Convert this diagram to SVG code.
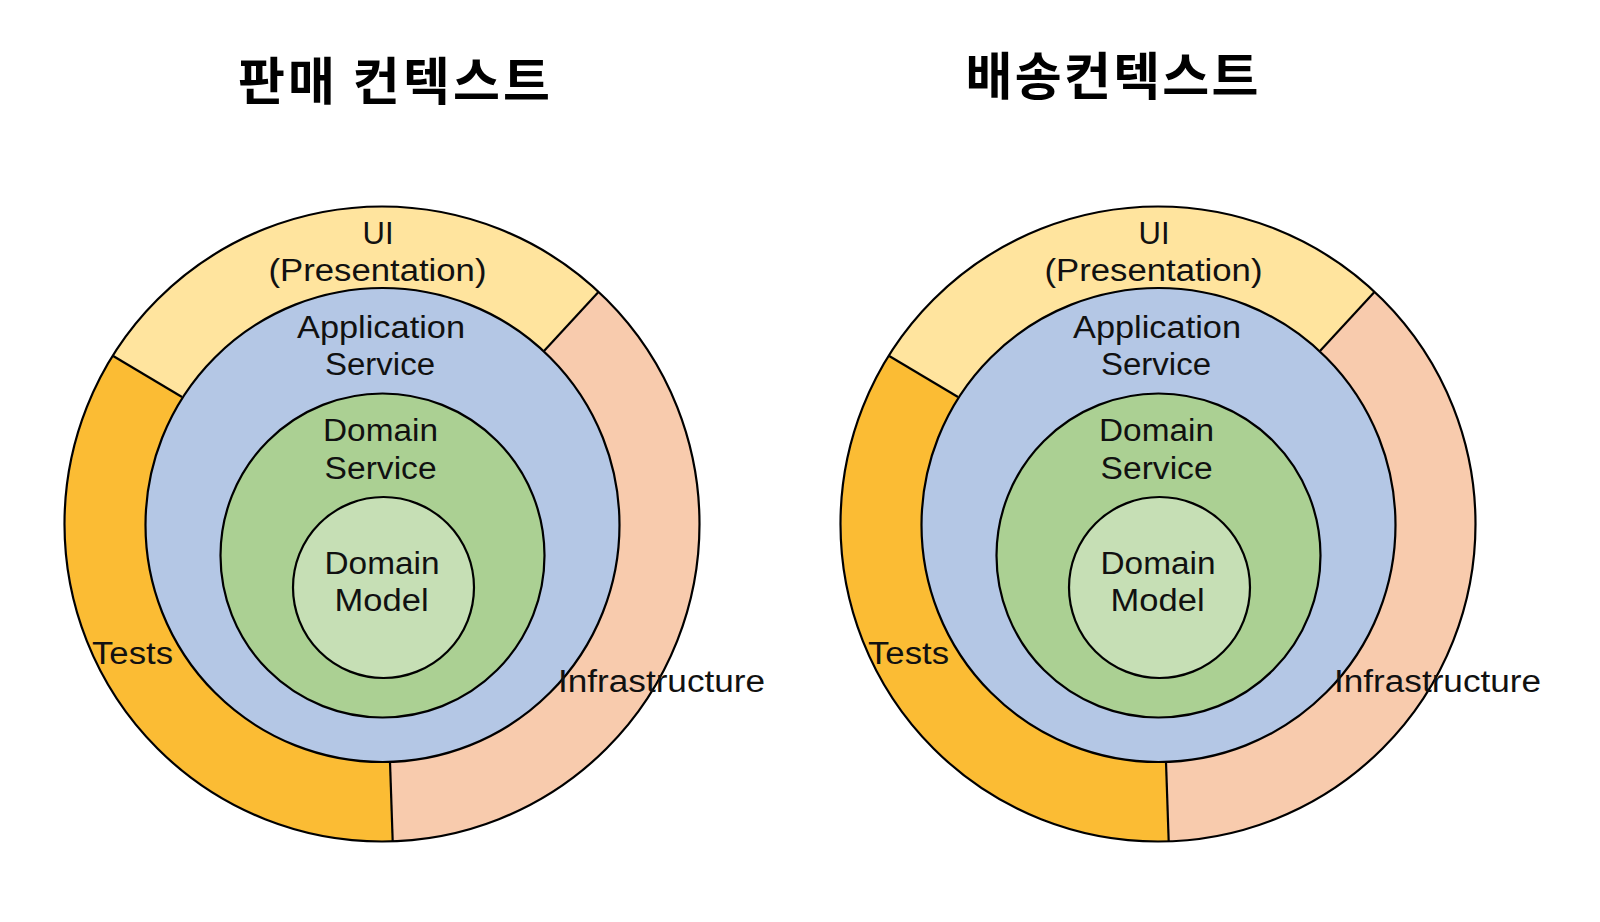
<svg xmlns="http://www.w3.org/2000/svg" width="1600" height="922" viewBox="0 0 1600 922">
<style>
.title{font-family:"Noto Sans CJK KR","Noto Sans",sans-serif;font-weight:bold;font-size:51px;fill:#000;text-anchor:middle}
.lbl{font-family:"Liberation Sans","Noto Sans",sans-serif;font-size:31px;fill:#111;text-anchor:middle}
.lbls{font-family:"Liberation Sans","Noto Sans",sans-serif;font-size:31px;fill:#111}
.ln{stroke:#000;stroke-width:2.2;fill:none}
.infra{fill:#F8CBAD}
.ui{fill:#FFE49E}
.tests{fill:#FBBC34}
.app{fill:#B4C7E5;stroke:#000;stroke-width:2.2}
.ds{fill:#ABD093;stroke:#000;stroke-width:2.2}
.dm{fill:#C6DFB5;stroke:#000;stroke-width:2.2}
</style>
<rect width="1600" height="922" fill="#fff"/>
<text id="title-sales" class="title" x="394" y="100" textLength="312" lengthAdjust="spacing">판매 컨텍스트</text>
<text id="title-shipping" class="title" x="1112" y="95" textLength="293" lengthAdjust="spacing">배송컨텍스트</text>

<g id="diagram-sales">
  <g id="sales-infrastructure">
    <circle class="infra" cx="382" cy="524" r="317.5"/>
  </g>
  <g id="sales-ui">
    <path class="ui" d="M113.2,356 A317.5,317.5 0 0 1 598.2,292.2 L544,351 L182,397 Z"/>
  </g>
  <g id="sales-tests">
    <path class="tests" d="M392.7,841 A317.5,317.5 0 0 1 113.2,356 L182,397 L390,763 Z"/>
  </g>
  <g id="sales-connectors">
    <circle class="ln" cx="382" cy="524" r="317.5"/>
    <line class="ln" x1="113.2" y1="356" x2="182" y2="397"/>
    <line class="ln" x1="598.2" y1="292.2" x2="544" y2="351"/>
    <line class="ln" x1="390" y1="762" x2="392.7" y2="841"/>
  </g>
  <g id="sales-application-service">
    <circle class="app" cx="382.5" cy="525" r="237"/>
  </g>
  <g id="sales-domain-service">
    <circle class="ds" cx="382.5" cy="555.5" r="162"/>
  </g>
  <g id="sales-domain-model">
    <circle class="dm" cx="383.5" cy="587.5" r="90.5"/>
  </g>
  <g id="sales-labels">
    <text class="lbl" x="378" y="244">UI</text>
    <text class="lbl" x="377.5" y="281" textLength="218" lengthAdjust="spacingAndGlyphs">(Presentation)</text>
    <text class="lbl" x="381" y="338" textLength="168" lengthAdjust="spacingAndGlyphs">Application</text>
    <text class="lbl" x="380" y="375" textLength="110" lengthAdjust="spacingAndGlyphs">Service</text>
    <text class="lbl" x="380.5" y="441" textLength="115" lengthAdjust="spacingAndGlyphs">Domain</text>
    <text class="lbl" x="380.6" y="479" textLength="112" lengthAdjust="spacingAndGlyphs">Service</text>
    <text class="lbl" x="382" y="574" textLength="115" lengthAdjust="spacingAndGlyphs">Domain</text>
    <text class="lbl" x="381.6" y="611" textLength="94" lengthAdjust="spacingAndGlyphs">Model</text>
    <text class="lbls" x="92" y="664" textLength="81" lengthAdjust="spacingAndGlyphs">Tests</text>
    <text class="lbls" x="558" y="692" textLength="207" lengthAdjust="spacingAndGlyphs">Infrastructure</text>
  </g>
</g>

<g id="diagram-shipping" transform="translate(776,0)">
  <g id="shipping-infrastructure">
    <circle class="infra" cx="382" cy="524" r="317.5"/>
  </g>
  <g id="shipping-ui">
    <path class="ui" d="M113.2,356 A317.5,317.5 0 0 1 598.2,292.2 L544,351 L182,397 Z"/>
  </g>
  <g id="shipping-tests">
    <path class="tests" d="M392.7,841 A317.5,317.5 0 0 1 113.2,356 L182,397 L390,763 Z"/>
  </g>
  <g id="shipping-connectors">
    <circle class="ln" cx="382" cy="524" r="317.5"/>
    <line class="ln" x1="113.2" y1="356" x2="182" y2="397"/>
    <line class="ln" x1="598.2" y1="292.2" x2="544" y2="351"/>
    <line class="ln" x1="390" y1="762" x2="392.7" y2="841"/>
  </g>
  <g id="shipping-application-service">
    <circle class="app" cx="382.5" cy="525" r="237"/>
  </g>
  <g id="shipping-domain-service">
    <circle class="ds" cx="382.5" cy="555.5" r="162"/>
  </g>
  <g id="shipping-domain-model">
    <circle class="dm" cx="383.5" cy="587.5" r="90.5"/>
  </g>
  <g id="shipping-labels">
    <text class="lbl" x="378" y="244">UI</text>
    <text class="lbl" x="377.5" y="281" textLength="218" lengthAdjust="spacingAndGlyphs">(Presentation)</text>
    <text class="lbl" x="381" y="338" textLength="168" lengthAdjust="spacingAndGlyphs">Application</text>
    <text class="lbl" x="380" y="375" textLength="110" lengthAdjust="spacingAndGlyphs">Service</text>
    <text class="lbl" x="380.5" y="441" textLength="115" lengthAdjust="spacingAndGlyphs">Domain</text>
    <text class="lbl" x="380.6" y="479" textLength="112" lengthAdjust="spacingAndGlyphs">Service</text>
    <text class="lbl" x="382" y="574" textLength="115" lengthAdjust="spacingAndGlyphs">Domain</text>
    <text class="lbl" x="381.6" y="611" textLength="94" lengthAdjust="spacingAndGlyphs">Model</text>
    <text class="lbls" x="92" y="664" textLength="81" lengthAdjust="spacingAndGlyphs">Tests</text>
    <text class="lbls" x="558" y="692" textLength="207" lengthAdjust="spacingAndGlyphs">Infrastructure</text>
  </g>
</g>
</svg>
